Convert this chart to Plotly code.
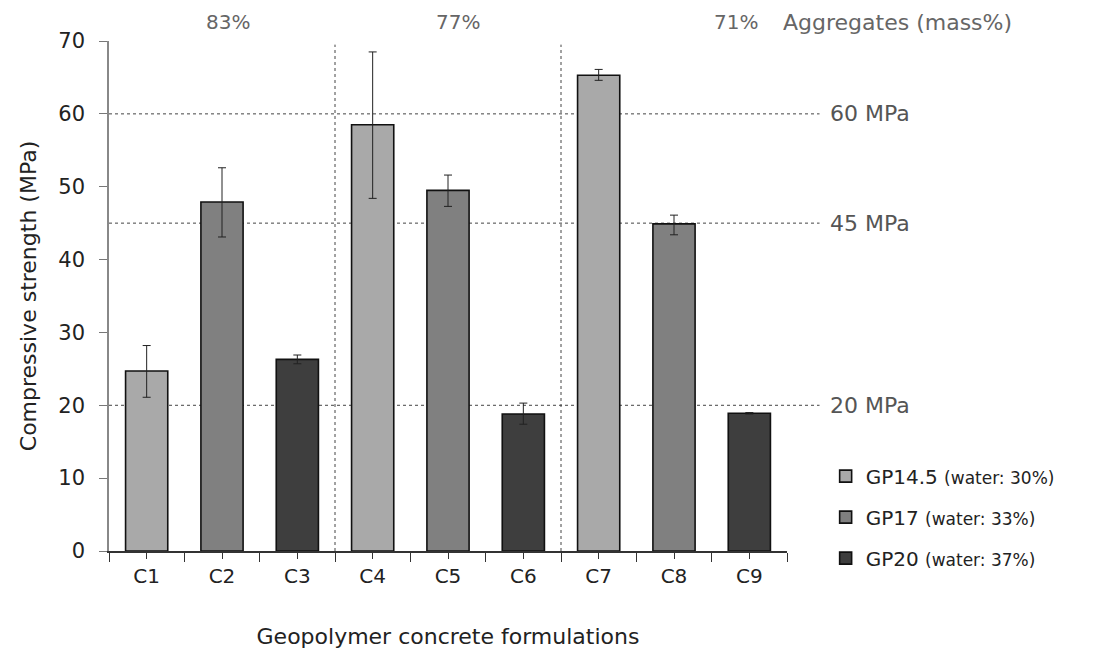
import plotly.graph_objects as go

categories = ["C1", "C2", "C3", "C4", "C5", "C6", "C7", "C8", "C9"]
series_names = ["GP14.5", "GP17", "GP20"]
series_water = ["(water: 30%)", "(water: 33%)", "(water: 37%)"]
series_idx = [[0, 3, 6], [1, 4, 7], [2, 5, 8]]
strength = [24.7, 47.9, 26.3, 58.5, 49.5, 18.8, 65.3, 44.9, 18.9]
err_plus = [3.5, 4.7, 0.6, 10.0, 2.1, 1.5, 0.8, 1.2, 0.1]
err_minus = [3.6, 4.8, 0.6, 10.1, 2.2, 1.4, 0.7, 1.5, 0.1]
colors = ["#a9a9a9", "#808080", "#3e3e3e"]
ref_levels = [60, 45, 20]
ref_labels = ["60 MPa", "45 MPa", "20 MPa"]
group_bounds = [2.5, 5.5]
group_labels = ["83%", "77%", "71%"]
group_label_x = [1.08, 4.13, 7.82]

FONT = "DejaVu Sans"
fig = go.Figure()

for s, name in enumerate(series_names):
    idx = series_idx[s]
    fig.add_trace(go.Bar(
        x=idx,
        y=[strength[i] for i in idx],
        width=0.56,
        name=f"{name} <span style='font-size:17px'>{series_water[s]}</span>",
        legendgroup=name,
        marker=dict(color=colors[s], line=dict(color="#111111", width=1.6)),
        error_y=dict(type="data", symmetric=False,
                     array=[err_plus[i] for i in idx],
                     arrayminus=[err_minus[i] for i in idx],
                     color="#222222", thickness=1, width=4),
    ))

shapes = []
for lv in ref_levels:
    shapes.append(dict(type="line", xref="paper", yref="y", x0=0, x1=1.048, y0=lv, y1=lv,
                       line=dict(color="#444444", width=1, dash="dot"), layer="below"))
for b in group_bounds:
    shapes.append(dict(type="line", xref="x", yref="y", x0=b, x1=b, y0=0, y1=69.5,
                       line=dict(color="#444444", width=1, dash="dot"), layer="below"))

annotations = []
for lv, lab in zip(ref_levels, ref_labels):
    annotations.append(dict(xref="paper", yref="y", x=1.06, y=lv, text=lab, showarrow=False,
                            xanchor="left", yanchor="middle",
                            font=dict(family=FONT, size=22, color="#555555")))
for gx, gl in zip(group_label_x, group_labels):
    annotations.append(dict(xref="x", yref="paper", x=gx, y=1.0, yshift=19, text=gl, showarrow=False,
                            xanchor="center", yanchor="middle",
                            font=dict(family=FONT, size=20, color="#666666")))
annotations.append(dict(xref="paper", yref="paper", x=1.0, y=1.0, yshift=19, xshift=-6,
                        text="Aggregates (mass%)", showarrow=False,
                        xanchor="left", yanchor="middle",
                        font=dict(family=FONT, size=22, color="#666666")))

fig.update_layout(
    width=1106, height=657,
    margin=dict(l=101, r=327, t=33, b=114),
    paper_bgcolor="white", plot_bgcolor="white",
    barmode="overlay",
    font=dict(family=FONT, size=19, color="#222222"),
    showlegend=True,
    legend=dict(x=1.057, y=0.185, xanchor="left", yanchor="top",
                font=dict(family=FONT, size=20, color="#222222"),
                tracegroupgap=12, traceorder="grouped", bgcolor="rgba(0,0,0,0)"),
    shapes=shapes,
    annotations=annotations,
    xaxis=dict(
        range=[-0.5, 8.5],
        tickmode="array", tickvals=list(range(len(categories))), ticktext=categories,
        ticks="outside", ticklen=6, tickcolor="#333333", tickwidth=1,
        minor=dict(ticks="outside", ticklen=9, tick0=-0.5, dtick=1, tickcolor="#333333", tickwidth=1),
        showline=True, linecolor="#333333", linewidth=1.5,
        showgrid=False, zeroline=False,
        tickfont=dict(family=FONT, size=20, color="#222222"),
        title=dict(text="Geopolymer concrete formulations", standoff=42,
                   font=dict(family=FONT, size=22, color="#222222")),
    ),
    yaxis=dict(
        range=[0, 70], dtick=10,
        ticks="outside", ticklen=8, tickcolor="#777777",
        ticklabelstandoff=10,
        showline=True, linecolor="#888888", linewidth=1.5,
        showgrid=False, zeroline=False,
        tickfont=dict(family=FONT, size=21, color="#222222"),
        title=dict(text="Compressive strength (MPa)", standoff=16,
                   font=dict(family=FONT, size=22, color="#222222")),
    ),
)

fig.write_html("out.html")
